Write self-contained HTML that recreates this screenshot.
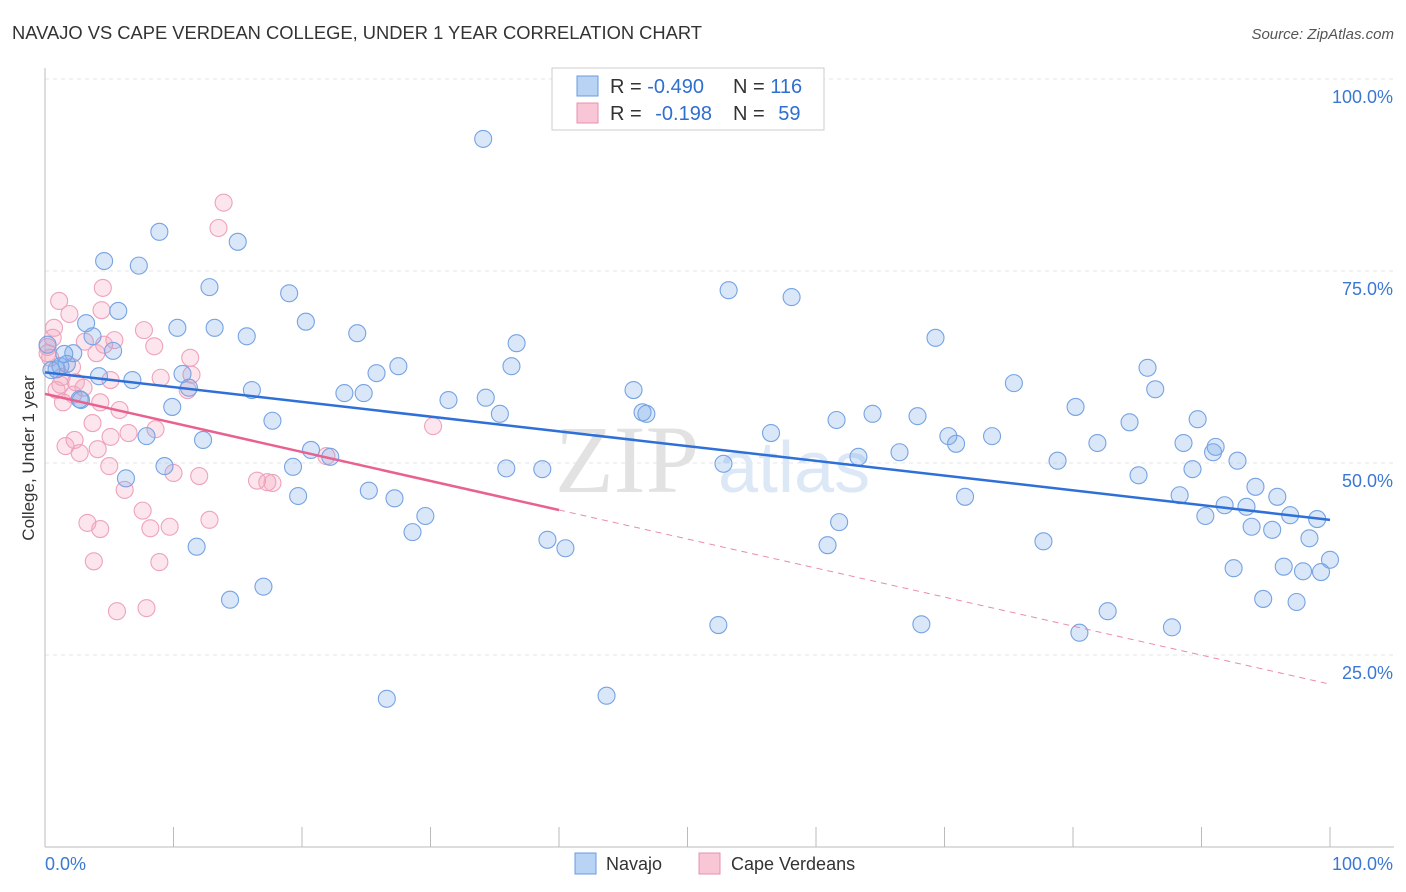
<!DOCTYPE html>
<html><head><meta charset="utf-8">
<style>
body{margin:0;background:#fff;font-family:"Liberation Sans",sans-serif;}
#wrap{position:relative;width:1406px;height:892px;overflow:hidden;}
</style></head>
<body>
<div id="wrap">
<svg id="chart" width="1406" height="892" xmlns="http://www.w3.org/2000/svg">
<text x="12" y="39" font-size="18" fill="#333" textLength="690" lengthAdjust="spacingAndGlyphs">NAVAJO VS CAPE VERDEAN COLLEGE, UNDER 1 YEAR CORRELATION CHART</text>
<text x="1394" y="39" font-size="15" fill="#555" font-style="italic" text-anchor="end">Source: ZipAtlas.com</text>
<text x="0" y="0" transform="translate(34,458) rotate(-90)" font-size="17" fill="#333" text-anchor="middle">College, Under 1 year</text>
<g id="grid"></g>
<text x="555" y="492" font-size="96" fill="#e2e2e2" font-family="Liberation Serif,serif">ZIP</text>
<text x="718" y="492" font-size="72" fill="#dce8f6">atlas</text>
<g id="marks"></g>
<g id="lines"></g>
<g>
<rect x="552" y="68" width="272" height="62" fill="#fff" stroke="#ccc"/>
<rect x="577" y="76" width="21" height="20" fill="#b8d3f3" stroke="#6a9be0"/>
<rect x="577" y="103" width="21" height="20" fill="#f9c6d5" stroke="#e990ac"/>
<text x="610" y="93" font-size="20" fill="#333">R = <tspan fill="#2f6fd0">-0.490</tspan></text>
<text x="733" y="93" font-size="20" fill="#333">N = <tspan fill="#2f6fd0">116</tspan></text>
<text x="610" y="120" font-size="20" fill="#333">R = <tspan fill="#2f6fd0" dx="8">-0.198</tspan></text>
<text x="733" y="120" font-size="20" fill="#333">N = <tspan fill="#2f6fd0" dx="8">59</tspan></text>
</g>
<g>
<rect x="575" y="853" width="21" height="21" fill="#b8d3f3" stroke="#6a9be0"/>
<text x="606" y="870" font-size="18" fill="#333">Navajo</text>
<rect x="699" y="853" width="21" height="21" fill="#f9c6d5" stroke="#e990ac"/>
<text x="731" y="870" font-size="18" fill="#333">Cape Verdeans</text>
</g>
</svg>
</div>
<script>
const navX=[34.1,8.9,15.0,4.6,7.3,12.8,19.0,5.7,20.3,10.3,13.2,15.7,24.3,3.2,3.7,5.3,2.2,1.7,0.9,4.2,6.8,10.7,11.2,16.1,23.3,24.8,25.8,27.5,31.4,34.3,35.4,36.3,36.7,17.7,9.9,7.9,12.3,2.7,45.8,46.5,46.8,53.2,58.1,69.3,75.4,85.8,86.4,80.2,84.4,89.7,61.6,64.4,67.9,70.3,70.9,73.7,56.5,52.8,66.5,63.3,78.8,81.9,88.6,90.9,91.1,92.8,89.3,85.1,94.2,95.9,88.3,91.8,90.3,93.5,93.9,96.9,95.5,99.0,98.4,100,97.9,99.3,96.4,92.5,94.8,97.4,82.7,87.7,80.5,68.2,52.4,60.9,61.8,77.7,71.6,19.3,9.3,6.3,19.7,25.2,27.2,29.6,28.6,35.9,38.7,39.1,40.5,20.7,22.2,11.8,14.4,17.0,26.6,43.7,0.2,0.5,1.2,1.5,2.8];
const navY=[92.2,80.1,78.8,76.3,75.7,72.9,72.1,69.8,68.4,67.6,67.6,66.5,66.9,68.2,66.5,64.6,64.3,62.9,62.2,61.3,60.8,61.6,59.8,59.5,59.1,59.1,61.7,62.6,58.2,58.5,56.4,62.6,65.6,55.5,57.3,53.5,53.0,58.3,59.5,56.6,56.4,72.5,71.6,66.3,60.4,62.4,59.6,57.3,55.3,55.7,55.6,56.4,56.1,53.5,52.5,53.5,53.9,49.9,51.4,50.8,50.3,52.6,52.6,51.4,52.1,50.3,49.2,48.4,46.9,45.6,45.8,44.5,43.1,44.3,41.7,43.2,41.3,42.7,40.2,37.4,35.9,35.8,36.5,36.3,32.3,31.9,30.7,28.6,27.9,29.0,28.9,39.3,42.3,39.8,45.6,49.5,49.6,48.0,45.7,46.4,45.4,43.1,41.0,49.3,49.2,40.0,38.9,51.7,50.8,39.1,32.2,33.9,19.3,19.7,65.4,62.1,62.6,64.2,58.2];
const capeX=[13.9,13.5,1.1,4.5,4.4,1.9,0.7,0.6,0.2,0.4,3.1,5.4,7.7,8.5,11.3,2.1,4.0,4.6,1.2,1.3,2.4,3.0,2.2,1.4,4.3,5.1,9.0,11.1,11.4,5.8,3.7,6.5,8.6,5.1,2.3,1.6,2.7,4.1,5.0,10.0,12.0,6.2,16.5,17.3,17.7,21.9,30.2,7.6,3.3,4.3,8.2,9.7,12.8,3.8,8.9,5.6,7.9,0.9,0.2];
const capeY=[83.9,80.6,71.1,72.8,69.9,69.4,67.6,66.3,65.1,63.7,65.8,66.0,67.3,65.2,63.7,62.5,64.3,65.4,60.2,61.2,60.5,59.8,58.9,57.9,57.9,60.8,61.1,59.5,61.5,56.9,55.2,53.9,54.4,53.4,53.0,52.2,51.3,51.8,49.6,48.7,48.3,46.5,47.7,47.5,47.4,50.9,54.8,43.8,42.2,41.4,41.5,41.7,42.6,37.2,37.1,30.7,31.1,59.5,64.3];
const yTicks=[25,50,75,100];
const yTickLabels=["25.0%","50.0%","75.0%","100.0%"];
const xTicks=[0,10,20,30,40,50,60,70,80,90,100];
const navTrend=[61.8,42.6];
const capeTrend=[59.0,21.2];
const capeSolidEnd=40;

const X0=45,X1=1330,Y0=847,Y100=79;
const sx=v=>X0+(X1-X0)*v/100;
const sy=v=>Y0-(Y0-Y100)*v/100;
const NS="http://www.w3.org/2000/svg";
function mk(tag,attrs,parent){const e=document.createElementNS(NS,tag);for(const k in attrs)e.setAttribute(k,attrs[k]);parent.appendChild(e);return e;}
const grid=document.getElementById('grid'),marks=document.getElementById('marks'),lines=document.getElementById('lines');
yTicks.forEach((t,i)=>{
  const g=mk('line',{x1:X0,x2:1394,y1:sy(t),y2:sy(t),stroke:'#e6e6e6','stroke-dasharray':'4,4'},grid);
  
  
  const l=mk('text',{x:1393,y:sy(t)+24,'font-size':18,fill:'#3a78d4','text-anchor':'end'},grid);
  l.textContent=yTickLabels[i];
  
  
});
const ax=mk('line',{x1:X0,x2:X0,y1:68,y2:Y0,stroke:'#bbb'},grid);


const bx=mk('line',{x1:X0,x2:1394,y1:Y0,y2:Y0,stroke:'#bbb'},grid);


xTicks.forEach(t=>{
  const k=mk('line',{x1:sx(t),x2:sx(t),y1:Y0-20,y2:Y0,stroke:'#bbb'},grid);
  
  
});
const xl0=mk('text',{x:45,y:870,'font-size':18,fill:'#3a78d4'},grid);xl0.textContent='0.0%';


const xl1=mk('text',{x:1393,y:870,'font-size':18,fill:'#3a78d4','text-anchor':'end'},grid);xl1.textContent='100.0%';



capeX.forEach((v,i)=>{
  const c=mk('circle',{cx:sx(v),cy:sy(capeY[i]),r:8.5,fill:'rgba(244,160,188,0.28)',stroke:'#eea3bb','stroke-width':1.1},marks);
  
  
});
navX.forEach((v,i)=>{
  const c=mk('circle',{cx:sx(v),cy:sy(navY[i]),r:8.5,fill:'rgba(120,168,235,0.28)',stroke:'#76a3e3','stroke-width':1.1},marks);
  
  
});
const capeAt=x=>capeTrend[0]+(capeTrend[1]-capeTrend[0])*x/100;
const l1=mk('line',{x1:sx(0),y1:sy(navTrend[0]),x2:sx(100),y2:sy(navTrend[1]),stroke:'#2f6fd8','stroke-width':2.5},lines);


const l2=mk('line',{x1:sx(0),y1:sy(capeAt(0)),x2:sx(capeSolidEnd),y2:sy(capeAt(capeSolidEnd)),stroke:'#e8618f','stroke-width':2.5},lines);


const l3=mk('line',{x1:sx(capeSolidEnd),y1:sy(capeAt(capeSolidEnd)),x2:sx(100),y2:sy(capeAt(100)),stroke:'#eb8aaa','stroke-width':1,'stroke-dasharray':'6,5'},lines);


</script>
</body></html>
